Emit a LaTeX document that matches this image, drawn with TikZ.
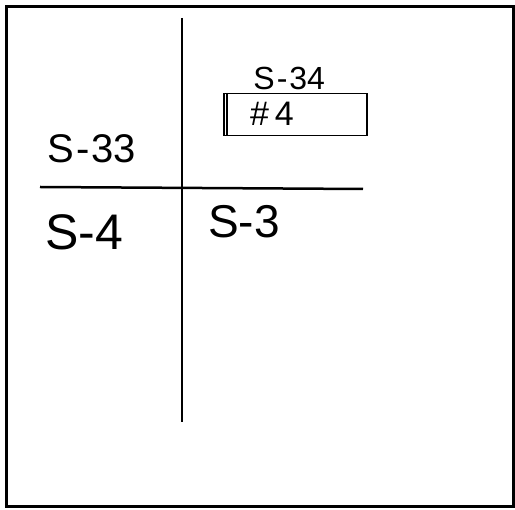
\documentclass[tikz,border=0pt]{standalone}
\usepackage{fontspec}
\setmainfont{Liberation Sans}
\usepackage{tikz}
\usetikzlibrary{positioning}

\begin{document}
\begin{tikzpicture}[x=1pt,y=-1pt,
    tag/.style={inner sep=0pt,font=\fontsize{#1}{#1}\selectfont},
    divider/.style={line width=2.5pt,black}
  ]
  \useasboundingbox (0,0) rectangle (515,510);
  % sheet border
  \draw[line width=3pt] (6.5,6.5) rectangle (513.5,506.5);
  % crossing lines
  \coordinate (vtop) at (182,18);
  \coordinate (vbot) at (182,422);
  \coordinate (hleft) at (40,187);
  \coordinate (hright) at (363,189);
  \draw[divider] (vtop) -- (vbot);
  \draw[divider] (hleft) -- (hright);
  % tagged slot
  \node[draw,line width=1.5pt,anchor=north west,minimum width=143pt,
    minimum height=42pt,inner sep=0pt] (slot) at (223,93) {};
  \draw[line width=1.2pt] ([xshift=4pt]slot.north west) -- ([xshift=4pt]slot.south west);
  \node[tag=34] (num) at (272,114) {\#\hspace{6pt}4};
  \node[tag=32,above=3pt of slot.north,xshift=-6pt] (s34) {S\hspace{2pt}-\hspace{2pt}34};
  % quadrant labels
  \node[tag=40] (s33) at (92,149) {S\hspace{2pt}-\hspace{2pt}33};
  \node[tag=50] (s4) at (84,232) {S-4};
  \node[tag=46] (s3) at (244,222) {S-3};
\end{tikzpicture}
\end{document}
